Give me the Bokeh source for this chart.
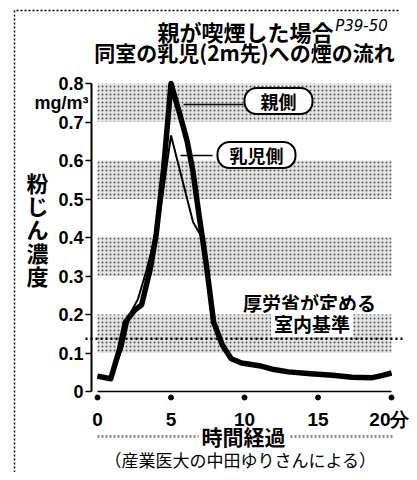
from bokeh.plotting import figure
from bokeh.models import Range1d, FixedTicker, Label
from bokeh.embed import file_html
from bokeh.resources import INLINE

# ---- data ----
parent_t = [0, 0.9, 1.5, 1.9, 2.5, 3.0, 3.6, 4.0, 4.5, 5.0, 5.6, 6.1, 6.5, 6.9, 7.4, 7.9,
            8.5, 9.1, 9.8, 11, 12, 13, 14.5, 16, 17.3, 18.7, 19.4, 20]
parent_v = [0.04, 0.033, 0.11, 0.18, 0.21, 0.225, 0.32, 0.41, 0.58, 0.80, 0.72, 0.65, 0.57, 0.46,
            0.33, 0.18, 0.12, 0.085, 0.074, 0.067, 0.057, 0.051, 0.046, 0.042, 0.037, 0.036, 0.042, 0.048]
infant_t = [0, 0.9, 1.7, 2.2, 2.75, 3.3, 4.1, 4.5, 5.0, 6.5, 7.1, 7.4, 7.9,
            8.5, 9.1, 9.8, 11, 12, 13, 14.5, 16, 17.3, 18.7, 19.4, 20]
infant_v = [0.04, 0.033, 0.115, 0.2, 0.24, 0.31, 0.43, 0.53, 0.665, 0.44, 0.40, 0.33, 0.18,
            0.12, 0.085, 0.074, 0.067, 0.057, 0.051, 0.046, 0.042, 0.037, 0.036, 0.042, 0.048]
standard = 0.137
band_bottoms = [0.1, 0.3, 0.5, 0.7]
band_tops = [0.2, 0.4, 0.6, 0.8]
x_ticks = [0, 5, 10, 15, 20]
x_labels = ["0", "5", "10", "15", "20分"]
y_ticks = [0, 0.1, 0.2, 0.3, 0.4, 0.5, 0.6, 0.7, 0.8]
y_labels = ["0", "0.1", "0.2", "0.3", "0.4", "0.5", "0.6", "0.7", "0.8"]

JP = "Noto Sans CJK JP"
NUM = "Liberation Sans"

W, H = 409, 472
X0PX, XS = 97.0, 14.7      # pixel of x=0, pixels per minute
Y0PX, YS = 391.0, 385.0    # pixel of y=0, pixels per mg/m3

def X(px):
    return (px - X0PX) / XS

def Y(py):
    return (Y0PX - py) / YS

p = figure(width=W, height=H, output_backend="svg", toolbar_location=None,
           x_range=Range1d(X(0), X(W)), y_range=Range1d(Y(H), Y(0)),
           min_border_left=0, min_border_right=0, min_border_top=0, min_border_bottom=0)
p.title.visible = False
p.outline_line_color = None
p.grid.visible = False
p.background_fill_color = "white"
p.border_fill_color = "white"

# bands
p.quad(left=x_ticks[0], right=x_ticks[-1], bottom=band_bottoms, top=band_tops,
       fill_color="#e4e4e4", line_color=None, hatch_pattern="dot", hatch_color="#555555",
       hatch_scale=4, hatch_weight=1.3, level="underlay")

# standard dotted line
p.segment(x0=X(85), x1=X(402), y0=standard, y1=standard, line_color="black",
          line_width=2.5, line_dash="2 3")

# baseline and tick dots
p.line(x=[x_ticks[0], x_ticks[-1]], y=[0, 0], line_color="black", line_width=1.5)
p.scatter(x=x_ticks, y=Y(397), size=5, color="black")

# lines
p.line(infant_t, infant_v, line_color="black", line_width=2)
p.line(parent_t, parent_v, line_color="black", line_width=5.5, line_join="round")

# axes
ya = p.yaxis[0]
ya.fixed_location = X(91)
ya.ticker = FixedTicker(ticks=y_ticks)
ya.major_label_overrides = dict(zip(y_ticks, y_labels))
ya.bounds = (0, 0.8)
ya.axis_line_width = 2
ya.major_tick_line_width = 1.5
ya.major_tick_out = 6
ya.major_tick_in = 0
ya.minor_tick_line_color = None
ya.major_label_standoff = 2
ya.major_label_text_font = NUM
ya.major_label_text_font_size = "18px"
ya.major_label_text_font_style = "bold"
ya.major_label_text_color = "black"

xa = p.xaxis[0]
xa.fixed_location = Y(400)
xa.ticker = FixedTicker(ticks=x_ticks)
xa.major_label_overrides = dict(zip(x_ticks, x_labels))
xa.axis_line_color = None
xa.major_tick_line_color = None
xa.minor_tick_line_color = None
xa.major_label_standoff = 2
xa.major_label_text_font = NUM
xa.major_label_text_font_size = "19px"
xa.major_label_text_font_style = "bold"
xa.major_label_text_color = "black"

def lab(px, py, text, size, font=JP, style="bold", **kw):
    p.add_layout(Label(x=X(px), y=Y(py), text=text, text_font=font, text_font_size=size,
                       text_font_style=style, text_align=kw.pop("align", "center"),
                       text_baseline="middle", text_color="black", **kw))

# titles
lab(245, 30, "親が喫煙した場合", "22px")
lab(244, 51, "同室の乳児(2m先)への煙の流れ", "21px")
lab(361, 25, "P39-50", "15px", font="DejaVu Sans", style="italic")

# y labels
lab(88, 102, "mg/m³", "18px", font=NUM, align="right")
lab(37, 228, "粉\nじ\nん\n濃\n度", "22px", text_line_height=0.72)

# series labels
p.segment(x0=[X(183), X(180)], y0=[Y(104), Y(155)], x1=[X(243), X(212)], y1=[Y(104), Y(155)],
          line_color="black", line_width=1.5)
lab(278, 100.5, "親側", "18px", background_fill_color="white",
    border_line_color="black", border_line_width=2, padding=(16, 0), border_radius=12)
lab(256, 154.5, "乳児側", "18px", background_fill_color="white",
    border_line_color="black", border_line_width=2, padding=(12, 0), border_radius=12)

# standard label
lab(309, 302, "厚労省が定める", "19px")
lab(311.5, 323, "室内基準", "19px", background_fill_color="white", padding=(3, 0))

# x title and caption
lab(243, 435, "時間経過", "21px")
lab(240, 459, "（産業医大の中田ゆりさんによる）", "17px", style="normal")
p.segment(x0=[X(97), X(290)], x1=[X(198), X(392)], y0=Y(436), y1=Y(436),
          line_color="#8a8a8a", line_width=3, line_dash="2 2")

# dotted frame (left and top)
p.line(x=[X(14), X(14), X(400)], y=[Y(H), Y(10), Y(10)], line_color="black",
       line_width=1.5, line_dash="2 2")

open("out.html", "w").write(file_html(p, INLINE))
